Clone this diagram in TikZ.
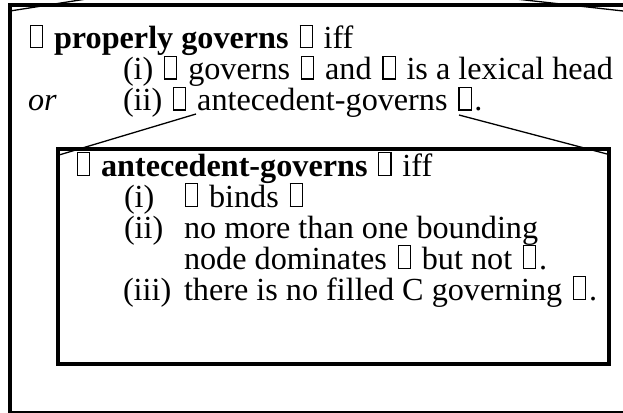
\documentclass[tikz,border=0pt]{standalone}
\usepackage{fontspec}
\setmainfont{Liberation Serif}
\usetikzlibrary{calc}
% hollow box standing in for a symbol the text font cannot set
\newcommand\tofu{\kern2.8pt\vbox{\hrule height 1.1pt\hbox{\vrule width 1.1pt height 21.5pt\kern11pt\vrule width 1.1pt}\hrule height 1.1pt}\kern2.8pt}
\begin{document}
\begin{tikzpicture}[x=1pt,y=-1pt,
  txt/.style={anchor=base west, inner sep=0pt, outer sep=0pt,
              font=\fontsize{32.2}{31}\selectfont},
  outerframe/.style={draw, line width=3.3pt, inner sep=0pt, outer sep=0pt, anchor=north west},
  innerframe/.style={draw, line width=4pt, inner sep=0pt, outer sep=0pt, anchor=north west},
  callout/.style={draw, line width=1.3pt}]
\useasboundingbox (0,0) rectangle (623,412);
\clip (0,0) rectangle (623,412);

% frames
\node[outerframe, minimum width=615pt, minimum height=407.5pt] (outer) at (10,5) {};
\node[innerframe, minimum width=551pt, minimum height=215.5pt] (inner) at (58,148.7) {};

% proper government
\node[txt] (pg) at (27.2,48.5) {\tofu\ \textbf{properly governs} \tofu\ iff};
\node[txt] (pgi) at (123,79.5) {(i) \tofu\ governs \tofu\ and \tofu\ is a lexical head};
\node[txt] (or) at (28,110.5) {\itshape or};
\node[txt] (pgii) at (123,110.5) {(ii) \tofu\ antecedent-governs \tofu.};

% antecedent government
\node[txt] (ag) at (74.2,176) {\tofu\ \textbf{antecedent-governs} \tofu\ iff};
\node[txt] (agi) at (124,207) {(i)};
\node[txt] (agit) at (182.2,207) {\tofu\ binds \tofu};
\node[txt] (agii) at (124,238) {(ii)};
\node[txt] (agiit) at (184,238) {no more than one bounding};
\node[txt] (agiit2) at (184,269) {node dominates \tofu\ but not \tofu.};
\node[txt] (agiii) at (123,300) {(iii)};
\node[txt] (agiiit) at (184,300) {there is no filled C governing \tofu.};

% callout lines into the outer frame
\coordinate (upL) at (150,-11);
\coordinate (upR) at (430,-10.6);
\coordinate (oL) at ($(outer.north west)+(0,6)$);
\coordinate (oR) at ($(outer.north east)+(0,6.2)$);
\draw[callout] (upL) -- (oL);
\draw[callout] (upR) -- (oR);

% callout lines from the clause to the inner frame
\coordinate (aL) at (196,114);
\coordinate (aR) at (459,115);
\coordinate (iL) at ($(inner.north west)+(1,6.3)$);
\coordinate (iR) at ($(inner.north east)+(-2,5.3)$);
\draw[callout] (aL) -- (iL);
\draw[callout] (aR) -- (iR);
\end{tikzpicture}
\end{document}
